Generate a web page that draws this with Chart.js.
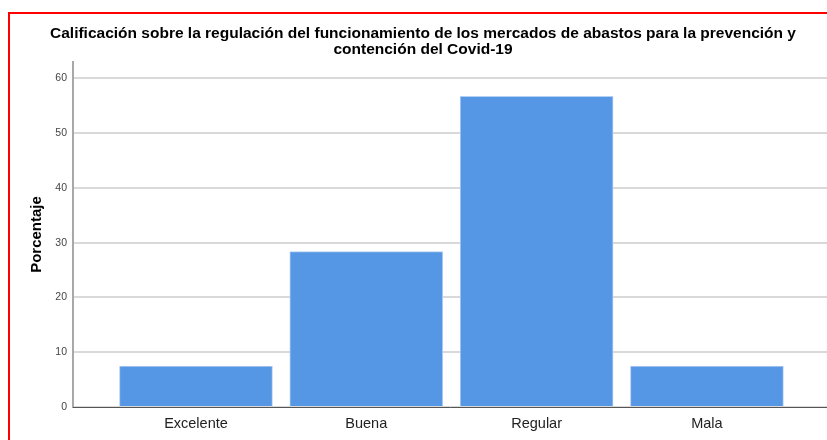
<!DOCTYPE html>
<html>
<head>
<meta charset="utf-8">
<script src="https://cdn.jsdelivr.net/npm/chart.js@4.4.1/dist/chart.umd.min.js"></script>
<style>
  body { margin: 0; background: #fff; overflow: hidden; }
  #caja { position: relative; width: 827px; height: 440px; }
  #marco { position: absolute; left: 8px; top: 12px; width: 900px; height: 500px;
           border-left: 2px solid #f00; border-top: 2px solid #f00; pointer-events: none; }
</style>
</head>
<body>
<div id="caja">
  <canvas id="myChart" width="827" height="440"></canvas>
  <div id="marco"></div>
</div>
<script>
// Datos
var categorias = ['Excelente', 'Buena', 'Regular', 'Mala'];
var porcentajes = [7.46, 28.36, 56.72, 7.46];
var ticksY = [0, 10, 20, 30, 40, 50, 60];
var titulo = ['Calificación sobre la regulación del funcionamiento de los mercados de abastos para la prevención y',
              'contención del Covid-19'];

var puntos = porcentajes.map((v, i) => ({ x: i, y: v }));

var ctx = document.getElementById('myChart').getContext('2d');
Chart.defaults.font.family = '"Liberation Sans", Arial, sans-serif';

var myChart = new Chart(ctx, {
  type: 'bar',
  data: {
    datasets: [{
      label: 'Porcentaje',
      data: puntos,
      backgroundColor: '#5596e5',
      borderColor: '#b4cff3',
      borderWidth: 1,
      barThickness: 153
    }]
  },
  options: {
    responsive: false,
    animation: false,
    layout: { padding: { left: 19, top: 26, right: 0, bottom: 0 } },
    plugins: {
      legend: { display: false },
      tooltip: { enabled: false },
      title: {
        display: true,
        text: titulo,
        color: '#000',
        font: { size: 15.5, weight: 'bold', lineHeight: 1.0 },
        padding: { top: 0, bottom: 5 }
      }
    },
    scales: {
      x: {
        type: 'linear',
        offset: false,
        min: -0.722,
        max: 3.705,
        afterBuildTicks: function (eje) {
          eje.ticks = categorias.map((c, i) => ({ value: i }));
        },
        afterFit: function (eje) { eje.height = 33; },
        grid: { display: false, drawTicks: false },
        border: { display: true, color: '#555', width: 1, z: 1 },
        ticks: {
          color: '#222',
          font: { size: 14.5 },
          padding: 8,
          autoSkip: false,
          maxRotation: 0,
          callback: function (v) { return categorias[v]; }
        }
      },
      y: {
        min: 0,
        max: 63,
        afterBuildTicks: function (eje) {
          eje.ticks = ticksY.map(v => ({ value: v }));
        },
        afterFit: function (eje) { eje.width = 54; },
        grid: { color: '#d9d9d9', lineWidth: 2, drawTicks: false },
        border: { display: true, color: '#a8a8a8', width: 2 },
        ticks: { color: '#444', font: { size: 10.5 }, padding: 6 },
        title: {
          display: true,
          text: 'Porcentaje',
          color: '#000',
          font: { size: 15, weight: 'bold' },
          padding: { top: 9 }
        }
      }
    }
  }
});
</script>
</body>
</html>
